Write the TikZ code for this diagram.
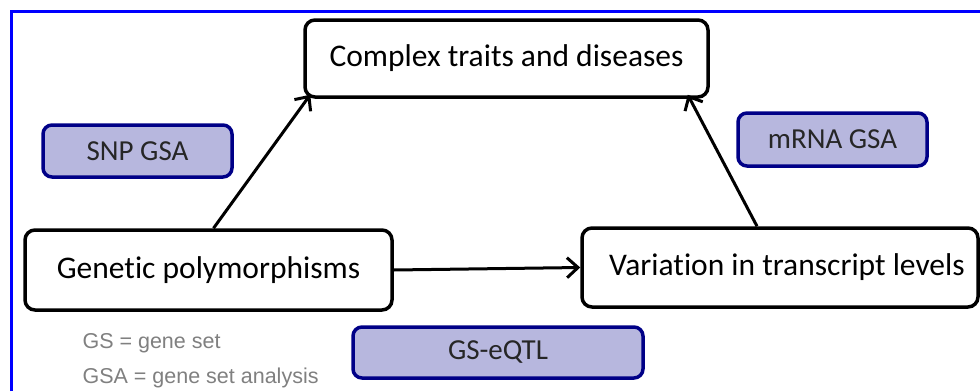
\documentclass[tikz,border=0pt]{standalone}
\usepackage{fontspec}
\setmainfont{Carlito}[Ligatures=NoCommon]
\newfontfamily\legendfont{Liberation Sans}
\usepackage{tikz}
\usetikzlibrary{arrows.meta,
                positioning,
                calc}
\definecolor{gsfill}{RGB}{183,183,222}
\definecolor{gsline}{RGB}{0,0,135}
\definecolor{frameblue}{RGB}{0,0,255}

\begin{document}
\begin{tikzpicture}[x=1pt, y=-1pt,
box/.style = {draw, rounded corners=10pt, line width=3.5pt, fill=white,
              inner sep=0pt, font=\fontsize{31.5}{36}\selectfont},
gsa/.style = {draw=gsline, fill=gsfill, rounded corners=9pt, line width=3.5pt,
              inner sep=0pt, text=black!85, font=\fontsize{29}{34}\selectfont},
every edge/.style = {draw, line width=3pt, -{Straight Barb[length=11pt,width=20pt,line width=3pt]}},
legend/.style = {text=black!50, font=\legendfont\fontsize{21.5}{25}\selectfont, anchor=west}
                    ]
\useasboundingbox (0,0) rectangle (980,391);
\fill[white] (0,0) rectangle (980,391);
\draw[frameblue, line width=3pt] (11,391) -- (11,11) -- (980,11);
%
\node[box, minimum width=403pt, minimum height=77pt] (traits) at (506.5,58.5) {Complex traits and diseases};
\node[box, minimum width=367pt, minimum height=80pt] (gen) at (208.5,270) {Genetic polymorphisms};
\node[box, minimum width=396pt, minimum height=79pt] (var) at (780,267.5) {\hspace{14pt}Variation in transcript levels};
%
\node[gsa, minimum width=189pt, minimum height=52pt] (snp) at (137.5,151) {SNP GSA};
\node[gsa, minimum width=189pt, minimum height=53pt] (mrna) at (832.5,139.5) {mRNA GSA};
\node[gsa, minimum width=290pt, minimum height=51pt] (eqtl) at (498,352.5) {GS-eQTL};
%
\draw ([xshift=5pt]gen.north) edge ([shift={(7pt,4pt)}]traits.south west)
      ([xshift=-23pt]var.north) edge ([shift={(-22pt,4pt)}]traits.south east)
      (gen.east) edge (var.west);
%
\node[legend] (gs) at (79,343) {GS = gene set};
\node[legend] (gsadef) at (79,378) {GSA = gene set analysis};
\end{tikzpicture}
\end{document}
